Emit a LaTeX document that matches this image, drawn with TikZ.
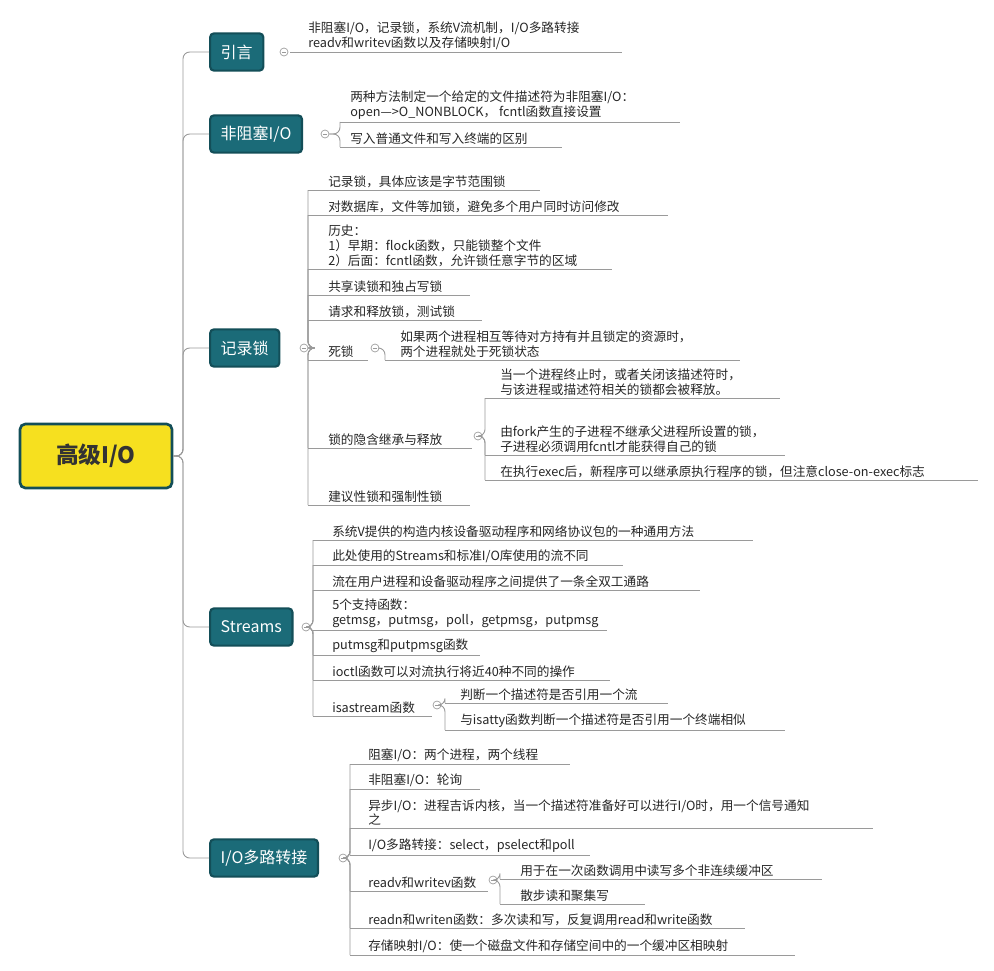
\documentclass[tikz,border=0pt]{standalone}
\usepackage{fontspec}
\setmainfont{Noto Sans CJK SC}
\definecolor{tealbox}{HTML}{1B6B78}
\definecolor{tealedge}{HTML}{134E58}
\definecolor{rootfill}{HTML}{F6E01F}
\definecolor{linegray}{HTML}{9A9A9A}
\tikzset{
  mainbox/.style={draw=tealedge,line width=1.6pt,fill=tealbox,text=white,rounded corners=3pt,
    minimum height=28pt,inner xsep=8pt,anchor=west,font=\fontsize{12}{14}\selectfont},
  conn/.style={draw=linegray,line width=0.7pt,rounded corners=5pt},
  leafline/.style={draw=linegray,line width=0.7pt},
  leaftext/.style={anchor=south west,inner sep=0pt,align=left,text=black!85,
    font=\fontsize{9.5}{11.2}\selectfont},
  fold/.style={circle,draw=linegray,fill=white,inner sep=0pt,minimum size=6pt,line width=0.5pt,
    path picture={\draw[linegray] ([xshift=-1.6pt]path picture bounding box.center) -- ([xshift=1.6pt]path picture bounding box.center);}}
}
% line start x, underline y, line end x, text x, text
\newcommand\leaf[6]{%
  \coordinate (#1) at (#2,#3);
  \node[leaftext] (#1t) at (#5,#3-2) {#6};
  \draw[leafline] (#1) -- (#4,#3);
}
\begin{document}
\begin{tikzpicture}[x=0.75pt,y=-0.75pt]
\useasboundingbox (0,0) rectangle (994,970);
% root
\node[draw=tealedge,line width=2pt,fill=rootfill,rounded corners=4pt,minimum width=114pt,
  minimum height=48pt,font=\fontsize{17}{20}\selectfont\bfseries,text=black!80] (root) at (96,456) {高级I/O};
% main branches
\node[mainbox] (intro) at (209,52) {引言};
\node[mainbox] (nonblock) at (209,134) {非阻塞I/O};
\node[mainbox] (reclock) at (209,348) {记录锁};
\node[mainbox] (streams) at (209,627) {Streams};
\node[mainbox] (iomux) at (209,858) {I/O多路转接};
\foreach \b in {intro,nonblock,reclock,streams,iomux}
  \draw[conn] (root.east) -- (183,456) |- (\b.west);
% 引言
\leaf{i1}{290}{52}{622}{308}{非阻塞I/O，记录锁，系统V流机制，I/O多路转接\\readv和writev函数以及存储映射I/O}
\node[fold] (cintro) at (284,52) {};
% 非阻塞I/O
\leaf{n1}{340}{122}{680}{350}{两种方法制定一个给定的文件描述符为非阻塞I/O：\\open—>O\_NONBLOCK， fcntl函数直接设置}
\leaf{n2}{340}{147}{562}{350}{写入普通文件和写入终端的区别}
\node[fold] (cnonblock) at (325,134) {};
\foreach \l in {n1,n2} \draw[conn] (cnonblock.east) -| (\l);
% 记录锁
\leaf{r1}{308}{190}{540}{328}{记录锁，具体应该是字节范围锁}
\leaf{r2}{308}{215}{668}{328}{对数据库，文件等加锁，避免多个用户同时访问修改}
\leaf{r3}{308}{269}{612}{328}{历史：\\1）早期：flock函数，只能锁整个文件\\2）后面：fcntl函数，允许锁任意字节的区域}
\leaf{r4}{308}{295}{470}{328}{共享读锁和独占写锁}
\leaf{r5}{308}{320}{482}{328}{请求和释放锁，测试锁}
\leaf{r6}{308}{360}{368}{328}{死锁}
\leaf{r7}{308}{448}{472}{328}{锁的隐含继承与释放}
\leaf{r8}{308}{505}{470}{328}{建议性锁和强制性锁}
\node[fold] (creclock) at (304,348) {};
\foreach \l in {r1,r2,r3,r4,r5,r6,r7,r8} \draw[conn] (creclock.east) -| (\l);
\leaf{r61}{385}{360}{740}{400}{如果两个进程相互等待对方持有并且锁定的资源时，\\两个进程就处于死锁状态}
\node[fold] (cdead) at (375,348) {};
\draw[conn] (cdead.east) -| (r61);
\leaf{r71}{485}{398}{780}{500}{当一个进程终止时，或者关闭该描述符时，\\与该进程或描述符相关的锁都会被释放。}
\leaf{r72}{485}{455}{785}{500}{由fork产生的子进程不继承父进程所设置的锁，\\子进程必须调用fcntl才能获得自己的锁}
\leaf{r73}{485}{480}{978}{500}{在执行exec后，新程序可以继承原执行程序的锁，但注意close-on-exec标志}
\node[fold] (cinherit) at (478,436) {};
\foreach \l in {r71,r72,r73} \draw[conn] (cinherit.east) -| (\l);
% Streams
\leaf{s1}{313}{540}{753}{332}{系统V提供的构造内核设备驱动程序和网络协议包的一种通用方法}
\leaf{s2}{313}{565}{623}{332}{此处使用的Streams和标准I/O库使用的流不同}
\leaf{s3}{313}{590}{700}{332}{流在用户进程和设备驱动程序之间提供了一条全双工通路}
\leaf{s4}{313}{630}{607}{332}{5个支持函数：\\getmsg，putmsg，poll，getpmsg，putpmsg}
\leaf{s5}{313}{655}{480}{332}{putmsg和putpmsg函数}
\leaf{s6}{313}{680}{610}{332}{ioctl函数可以对流执行将近40种不同的操作}
\leaf{s7}{313}{716}{432}{332}{isastream函数}
\node[fold] (cstreams) at (306,627) {};
\foreach \l in {s1,s2,s3,s4,s5,s6,s7} \draw[conn] (cstreams.east) -| (\l);
\leaf{s71}{445}{703}{668}{460}{判断一个描述符是否引用一个流}
\leaf{s72}{445}{730}{785}{460}{与isatty函数判断一个描述符是否引用一个终端相似}
\node[fold] (cisa) at (437,705) {};
\foreach \l in {s71,s72} \draw[conn] (cisa.east) -| (\l);
% I/O多路转接
\leaf{m1}{350}{764}{570}{368}{阻塞I/O：两个进程，两个线程}
\leaf{m2}{350}{789}{480}{368}{非阻塞I/O：轮询}
\leaf{m3}{350}{828}{873}{368}{异步I/O：进程吉诉内核，当一个描述符准备好可以进行I/O时，用一个信号通知\\之}
\leaf{m4}{350}{855}{590}{368}{I/O多路转接：select，pselect和poll}
\leaf{m5}{350}{891}{488}{368}{readv和writev函数}
\leaf{m6}{350}{928}{745}{368}{readn和writen函数：多次读和写，反复调用read和write函数}
\leaf{m7}{350}{955}{795}{368}{存储映射I/O：使一个磁盘文件和存储空间中的一个缓冲区相映射}
\node[fold] (ciomux) at (343,858) {};
\foreach \l in {m1,m2,m3,m4,m5,m6,m7} \draw[conn] (ciomux.east) -| (\l);
\leaf{m51}{500}{879}{822}{520}{用于在一次函数调用中读写多个非连续缓冲区}
\leaf{m52}{500}{904}{645}{520}{散步读和聚集写}
\node[fold] (creadv) at (493,880) {};
\foreach \l in {m51,m52} \draw[conn] (creadv.east) -| (\l);
\end{tikzpicture}
\end{document}
